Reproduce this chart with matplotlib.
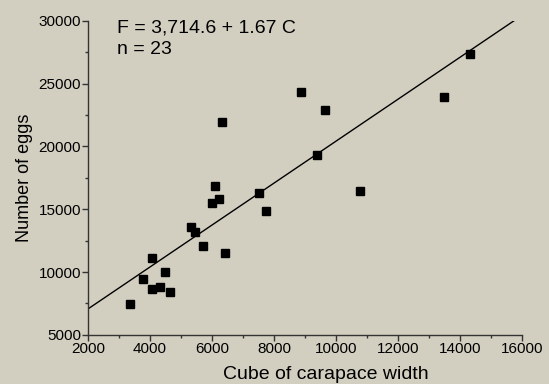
import matplotlib
matplotlib.use('Agg')
import matplotlib.pyplot as plt
from matplotlib.ticker import MultipleLocator

plt.rcParams['font.family'] = ['Liberation Sans', 'DejaVu Sans']

# cube of carapace width vs number of eggs
cube_width = [3350, 3780, 4075, 4075, 4320, 4475, 4645, 5330, 5440, 5720,
              6010, 6100, 6215, 6310, 6420, 7525, 7750, 8860, 9375, 9655,
              10785, 13475, 14330]
n_eggs = [7450, 9430, 11130, 8660, 8800, 10010, 8400, 13570, 13220, 12060,
          15500, 16830, 15845, 21970, 11500, 16320, 14890, 24310, 19300, 22880,
          16480, 23910, 27355]

intercept = 3714.6
slope = 1.67
fit_x = [2000, 16000]
fit_y = [intercept + slope * v for v in fit_x]

bg = '#d2cfc1'
fig = plt.figure(figsize=(5.49, 3.84), dpi=100, facecolor=bg)
ax = fig.add_axes([0.160, 0.128, 0.791, 0.818], facecolor=bg)

ax.plot(fit_x, fit_y, color='black', lw=1.0)
ax.plot(cube_width, n_eggs, 's', color='black', ms=5.8, mec='black')

ax.set_xlim(2000, 16000)
ax.set_ylim(5000, 30000)
ax.xaxis.set_major_locator(MultipleLocator(2000))
ax.xaxis.set_minor_locator(MultipleLocator(1000))
ax.yaxis.set_major_locator(MultipleLocator(5000))
ax.yaxis.set_minor_locator(MultipleLocator(2500))

for s in ['top', 'right']:
    ax.spines[s].set_visible(False)
for s in ['left', 'bottom']:
    ax.spines[s].set_color('#333333')
    ax.spines[s].set_linewidth(1.0)

ax.tick_params(which='major', length=4, width=1, color='#333333', labelsize=11, pad=1)
ax.tick_params(which='minor', length=2.5, width=1, color='#333333')

ax.set_xlabel('Cube of carapace width', fontsize=14)
ax.xaxis.set_label_coords(0.548, -0.098)
ax.set_ylabel('Number of eggs', fontsize=13, labelpad=4)

ax.text(0.067, 0.962, 'F = 3,714.6 + 1.67 C', transform=ax.transAxes,
        fontsize=14, va='baseline')
ax.text(0.067, 0.895, 'n = 23', transform=ax.transAxes,
        fontsize=14, va='baseline')

fig.savefig('out.png', dpi=100, facecolor=bg)
